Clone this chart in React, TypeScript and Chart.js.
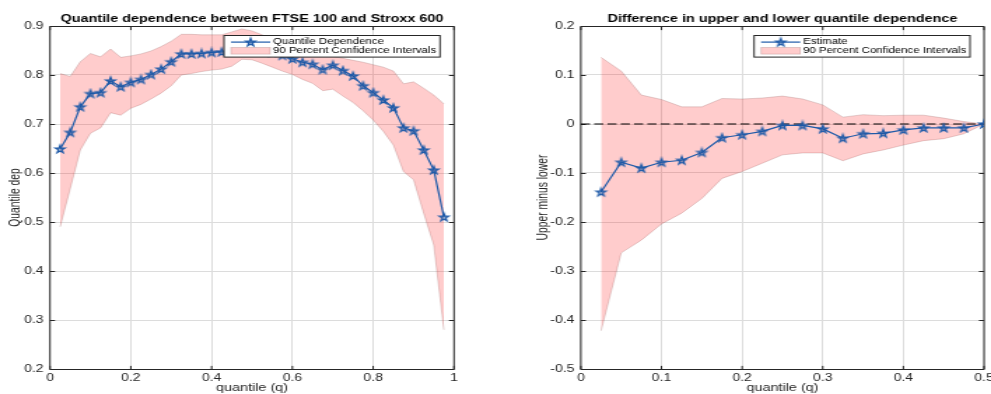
import React, { useEffect, useRef } from "react";
import { Chart, registerables } from "chart.js";

Chart.register(...registerables);

// ---------- data: left panel ----------
const leftTitle = "Quantile dependence between FTSE 100 and Stroxx 600";
const leftYLabel = "Quantile dep";
const leftXLabel = "quantile (q)";
const leftLegend = ["Quantile Dependence", "90 Percent Confidence Intervals"];
const leftQ = [0.025, 0.05, 0.075, 0.1, 0.125, 0.15, 0.175, 0.2, 0.225, 0.25, 0.275, 0.3, 0.325, 0.35, 0.375, 0.4, 0.425, 0.45, 0.475, 0.5, 0.525, 0.55, 0.575, 0.6, 0.625, 0.65, 0.675, 0.7, 0.725, 0.75, 0.775, 0.8, 0.825, 0.85, 0.875, 0.9, 0.925, 0.95, 0.975];
const leftDep = [0.649, 0.683, 0.735, 0.762, 0.764, 0.788, 0.776, 0.785, 0.791, 0.801, 0.812, 0.827, 0.843, 0.843, 0.844, 0.846, 0.847, 0.849, 0.851, 0.852, 0.85, 0.846, 0.84, 0.833, 0.826, 0.822, 0.811, 0.82, 0.809, 0.798, 0.778, 0.764, 0.749, 0.733, 0.692, 0.686, 0.647, 0.606, 0.51];
const leftUpper = [0.803, 0.797, 0.827, 0.844, 0.837, 0.853, 0.836, 0.839, 0.843, 0.849, 0.858, 0.869, 0.883, 0.883, 0.882, 0.882, 0.882, 0.888, 0.894, 0.89, 0.882, 0.874, 0.866, 0.859, 0.853, 0.848, 0.843, 0.838, 0.834, 0.83, 0.826, 0.821, 0.816, 0.808, 0.782, 0.786, 0.773, 0.759, 0.741];
const leftLower = [0.49, 0.568, 0.647, 0.681, 0.692, 0.723, 0.718, 0.732, 0.74, 0.751, 0.763, 0.778, 0.8, 0.803, 0.807, 0.81, 0.812, 0.818, 0.832, 0.831, 0.824, 0.816, 0.808, 0.801, 0.791, 0.783, 0.768, 0.771, 0.757, 0.744, 0.727, 0.708, 0.685, 0.657, 0.603, 0.586, 0.518, 0.453, 0.28];
const leftXTicks = [0, 0.2, 0.4, 0.6, 0.8, 1];
const leftXTickLabels = ["0", "0.2", "0.4", "0.6", "0.8", "1"];
const leftYTicks = [0.2, 0.3, 0.4, 0.5, 0.6, 0.7, 0.8, 0.9];
const leftYTickLabels = ["0.2", "0.3", "0.4", "0.5", "0.6", "0.7", "0.8", "0.9"];

// ---------- data: right panel ----------
const rightTitle = "Difference in upper and lower quantile dependence";
const rightYLabel = "Upper minus lower";
const rightXLabel = "quantile (q)";
const rightLegend = ["Estimate", "90 Percent Confidence Intervals"];
const rightQ = [0.025, 0.05, 0.075, 0.1, 0.125, 0.15, 0.175, 0.2, 0.225, 0.25, 0.275, 0.3, 0.325, 0.35, 0.375, 0.4, 0.425, 0.45, 0.475, 0.5];
const rightEst = [-0.139, -0.078, -0.09, -0.078, -0.074, -0.058, -0.028, -0.022, -0.015, -0.003, -0.003, -0.01, -0.029, -0.02, -0.019, -0.012, -0.008, -0.008, -0.008, 0.0];
const rightUpper = [0.136, 0.108, 0.059, 0.05, 0.035, 0.035, 0.052, 0.051, 0.053, 0.057, 0.051, 0.039, 0.014, 0.019, 0.017, 0.018, 0.018, 0.012, 0.005, 0.0];
const rightLower = [-0.422, -0.263, -0.237, -0.204, -0.182, -0.152, -0.111, -0.097, -0.08, -0.063, -0.059, -0.059, -0.075, -0.061, -0.053, -0.043, -0.034, -0.03, -0.02, 0.0];
const zeroLineX = [0, 0.5];
const zeroLineY = [0, 0];
const rightXTicks = [0, 0.1, 0.2, 0.3, 0.4, 0.5];
const rightXTickLabels = ["0", "0.1", "0.2", "0.3", "0.4", "0.5"];
const rightYTicks = [-0.5, -0.4, -0.3, -0.2, -0.1, 0, 0.1, 0.2];
const rightYTickLabels = ["-0.5", "-0.4", "-0.3", "-0.2", "-0.1", "0", "0.1", "0.2"];

// ---------- style ----------
const S = 1.4; // horizontal stretch of the rendered figure
const FONT = '"Liberation Sans", Arial, Helvetica, sans-serif';
const AX = "#262626";
const GRID = "#dcdcdc";
const LINE = "rgb(30,90,168)";
const BAND = "rgba(255,0,0,0.2)";
const BAND_EDGE = "rgba(150,100,100,0.35)";

type Spec = {
  title: string; yLabel: string; xLabel: string; legend: string[];
  q: number[]; est: number[]; upper: number[]; lower: number[];
  zeroX?: number[]; zeroY?: number[];
  xMin: number; xMax: number; yMin: number; yMax: number;
  xTicks: number[]; xTickLabels: string[]; yTicks: number[]; yTickLabels: string[];
  bmpWidth: number; cssLeft: number; areaLeft: number; areaRight: number; yTitleCenter: number;
};

const leftSpec: Spec = {
  title: leftTitle, yLabel: leftYLabel, xLabel: leftXLabel, legend: leftLegend,
  q: leftQ, est: leftDep, upper: leftUpper, lower: leftLower,
  xMin: 0, xMax: 1, yMin: 0.2, yMax: 0.9,
  xTicks: leftXTicks, xTickLabels: leftXTickLabels, yTicks: leftYTicks, yTickLabels: leftYTickLabels,
  bmpWidth: 360, cssLeft: 0, areaLeft: 50, areaRight: 454, yTitleCenter: 16,
};

const rightSpec: Spec = {
  title: rightTitle, yLabel: rightYLabel, xLabel: rightXLabel, legend: rightLegend,
  q: rightQ, est: rightEst, upper: rightUpper, lower: rightLower,
  zeroX: zeroLineX, zeroY: zeroLineY,
  xMin: 0, xMax: 0.5, yMin: -0.5, yMax: 0.2,
  xTicks: rightXTicks, xTickLabels: rightXTickLabels, yTicks: rightYTicks, yTickLabels: rightYTickLabels,
  bmpWidth: 348, cssLeft: 991 - 348 * S, areaLeft: 580.7, areaRight: 984, yTitleCenter: 543,
};

function makeStar(): HTMLCanvasElement {
  const size = 12;
  const c = document.createElement("canvas");
  c.width = size;
  c.height = size;
  const ctx = c.getContext("2d")!;
  const R = 4.1;
  const r = R * 0.382;
  const cx = size / 2;
  const cy = size / 2 + 0.35;
  ctx.beginPath();
  for (let i = 0; i < 10; i++) {
    const a = -Math.PI / 2 + (i * Math.PI) / 5;
    const rr = i % 2 === 0 ? R : r;
    const px = cx + rr * Math.cos(a) * 0.88;
    const py = cy + rr * Math.sin(a);
    if (i === 0) ctx.moveTo(px, py);
    else ctx.lineTo(px, py);
  }
  ctx.closePath();
  ctx.fillStyle = "rgba(30,80,150,0.35)";
  ctx.fill();
  ctx.strokeStyle = LINE;
  ctx.lineWidth = 1.2;
  ctx.stroke();
  return c;
}

function decorPlugin(spec: Spec, star: HTMLCanvasElement) {
  return {
    id: "decor",
    beforeDatasetsDraw(chart: any) {
      const { ctx, chartArea: a } = chart;
      const xs = chart.scales.x;
      const ys = chart.scales.y;
      ctx.save();
      ctx.strokeStyle = AX;
      ctx.lineWidth = 1;
      const top = Math.floor(a.top) + 0.5;
      const bottom = Math.floor(a.bottom) + 0.5;
      ctx.beginPath();
      ctx.moveTo(a.left, top);
      ctx.lineTo(a.right, top);
      ctx.lineTo(a.right, bottom);
      ctx.lineTo(a.left, bottom);
      ctx.closePath();
      const tl = 3.6;
      for (const v of spec.xTicks) {
        const px = xs.getPixelForValue(v);
        ctx.moveTo(px, bottom);
        ctx.lineTo(px, bottom - tl);
        ctx.moveTo(px, top);
        ctx.lineTo(px, top + tl);
      }
      for (const v of spec.yTicks) {
        const py = Math.round(ys.getPixelForValue(v)) + 0.5;
        ctx.moveTo(a.left, py);
        ctx.lineTo(a.left + tl, py);
        ctx.moveTo(a.right, py);
        ctx.lineTo(a.right - tl, py);
      }
      ctx.stroke();
      // title
      ctx.fillStyle = "#000";
      ctx.font = `bold 10.3px ${FONT}`;
      ctx.textAlign = "center";
      ctx.textBaseline = "alphabetic";
      ctx.fillText(spec.title, (a.left + a.right) / 2, 21.5);
      ctx.restore();
    },
    afterDatasetsDraw(chart: any) {
      const { ctx, chartArea: a } = chart;
      ctx.save();
      const bw = 216 / S;
      const bh = 21.6;
      const bx = a.right - 14 / S - bw;
      const by = Math.floor(a.top + 9.7) + 0.5;
      ctx.fillStyle = "#fff";
      ctx.fillRect(bx, by, bw, bh);
      ctx.strokeStyle = AX;
      ctx.lineWidth = 1;
      ctx.strokeRect(bx, by, bw, bh);
      const y1 = by + 6.6;
      const y2 = by + 15.3;
      const sx0 = bx + 5;
      const sx1 = bx + 33;
      ctx.strokeStyle = LINE;
      ctx.lineWidth = 1.2;
      ctx.beginPath();
      ctx.moveTo(sx0, y1);
      ctx.lineTo(sx1, y1);
      ctx.stroke();
      ctx.drawImage(star, (sx0 + sx1) / 2 - star.width / 2, y1 - star.height / 2);
      ctx.fillStyle = BAND;
      ctx.fillRect(sx0, by + 12, sx1 - sx0, 6.6);
      ctx.strokeStyle = BAND_EDGE;
      ctx.lineWidth = 0.8;
      ctx.strokeRect(sx0, by + 12, sx1 - sx0, 6.6);
      ctx.fillStyle = "#000";
      ctx.font = `8.2px ${FONT}`;
      ctx.textAlign = "left";
      ctx.textBaseline = "middle";
      ctx.fillText(spec.legend[0], bx + 35, y1);
      ctx.fillText(spec.legend[1], bx + 35, y2);
      ctx.restore();
    },
  };
}

function buildConfig(spec: Spec, star: HTMLCanvasElement): any {
  const yWidth = (spec.areaLeft - spec.cssLeft) / S;
  const padRight = spec.bmpWidth - (spec.areaRight - spec.cssLeft) / S;
  const yTitlePad = (spec.yTitleCenter - spec.cssLeft) / S - 5;
  const datasets: any[] = [
    {
      label: spec.legend[0],
      data: spec.q.map((q, i) => ({ x: q, y: spec.est[i] })),
      borderColor: LINE,
      borderWidth: 1.2,
      pointStyle: star,
      pointRadius: 4,
      fill: false,
      tension: 0,
    },
  ];
  if (spec.zeroX && spec.zeroY) {
    datasets.push({
      label: "zero",
      data: spec.zeroX.map((x, i) => ({ x, y: spec.zeroY![i] })),
      borderColor: "#000",
      borderWidth: 1,
      borderDash: [6.5, 3],
      pointRadius: 0,
      fill: false,
    });
  }
  datasets.push(
    {
      label: spec.legend[1],
      data: spec.q.map((q, i) => ({ x: q, y: spec.upper[i] })),
      borderColor: BAND_EDGE,
      borderWidth: 0.8,
      backgroundColor: BAND,
      pointRadius: 0,
      fill: "+1",
      tension: 0,
    },
    {
      label: "lower",
      data: spec.q.map((q, i) => ({ x: q, y: spec.lower[i] })),
      borderColor: BAND_EDGE,
      borderWidth: 0.8,
      pointRadius: 0,
      fill: false,
      tension: 0,
    }
  );
  return {
    type: "line",
    data: { datasets },
    options: {
      responsive: false,
      maintainAspectRatio: false,
      animation: false,
      devicePixelRatio: 1,
      events: [],
      layout: { padding: { left: 0, right: padRight, top: 26, bottom: 0 }, autoPadding: false },
      plugins: { legend: { display: false }, tooltip: { enabled: false }, title: { display: false } },
      scales: {
        x: {
          type: "linear",
          min: spec.xMin,
          max: spec.xMax,
          afterBuildTicks: (s: any) => {
            s.ticks = spec.xTicks.map((v) => ({ value: v }));
          },
          afterFit: (s: any) => {
            s.height = 25;
            s.paddingLeft = 0;
            s.paddingRight = 0;
          },
          grid: { color: GRID, lineWidth: 1, drawTicks: false },
          border: { display: false },
          ticks: {
            padding: 3.4,
            color: AX,
            font: { family: FONT, size: 10 },
            maxRotation: 0,
            autoSkip: false,
            callback: (_v: any, i: number) => spec.xTickLabels[i],
          },
          title: {
            display: true,
            text: spec.xLabel,
            color: AX,
            font: { family: FONT, size: 10.3, lineHeight: 1 },
            padding: { top: 0, bottom: 1 },
          },
        },
        y: {
          type: "linear",
          min: spec.yMin,
          max: spec.yMax,
          afterBuildTicks: (s: any) => {
            s.ticks = spec.yTicks.map((v) => ({ value: v }));
          },
          afterFit: (s: any) => {
            s.width = yWidth;
            s.paddingTop = 0;
            s.paddingBottom = 0;
          },
          grid: { color: GRID, lineWidth: 1, drawTicks: false },
          border: { display: false },
          ticks: {
            padding: 4.6,
            color: AX,
            font: { family: FONT, size: 10 },
            autoSkip: false,
            callback: (_v: any, i: number) => spec.yTickLabels[i],
          },
          title: {
            display: true,
            text: spec.yLabel,
            color: AX,
            font: { family: FONT, size: 10.3, lineHeight: 1 },
            padding: { top: yTitlePad, bottom: 0 },
          },
        },
      },
    },
    plugins: [decorPlugin(spec, star)],
  };
}

export default function App() {
  const leftRef = useRef<HTMLCanvasElement>(null);
  const rightRef = useRef<HTMLCanvasElement>(null);
  useEffect(() => {
    const star = makeStar();
    const c1 = new Chart(leftRef.current!, buildConfig(leftSpec, star));
    const c2 = new Chart(rightRef.current!, buildConfig(rightSpec, star));
    return () => {
      c1.destroy();
      c2.destroy();
    };
  }, []);
  return (
    <div style={{ position: "fixed", left: 0, top: 0, width: 991, height: 394, background: "#fff", overflow: "hidden" }}>
      <canvas
        ref={leftRef}
        width={leftSpec.bmpWidth}
        height={394}
        style={{ position: "absolute", left: leftSpec.cssLeft, top: 0, width: leftSpec.bmpWidth * S, height: 394 }}
      />
      <canvas
        ref={rightRef}
        width={rightSpec.bmpWidth}
        height={394}
        style={{ position: "absolute", left: rightSpec.cssLeft, top: 0, width: rightSpec.bmpWidth * S, height: 394 }}
      />
    </div>
  );
}
